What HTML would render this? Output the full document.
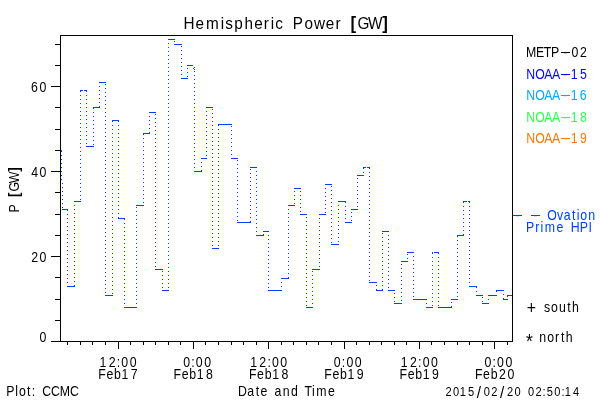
<!DOCTYPE html>
<html><head><meta charset="utf-8"><title>Hemispheric Power</title>
<style>
html,body{margin:0;padding:0;background:#fff}
body{width:600px;height:400px;overflow:hidden}
svg{display:block}
text{font-family:"Liberation Sans",sans-serif;white-space:pre}
</style></head><body>
<svg width="600" height="400" viewBox="0 0 600 400">
<rect width="600" height="400" fill="#fff"/>
<path d="M62 209.5H68M67 286.5H75M74 201.5H81M80 90.5H83M84 90.5H87M86 146.5H94M93 107.5H100M99 82.5H106M105 295.5H113M112 120.5H119M118 218.5H125M124 307.5H137M136 205.5H144M143 133.5H150M149 112.5H156M155 269.5H163M162 290.5H169M168 39.5H175M174 44.5H182M181 78.5H188M187 65.5H193M193 68.5h1M194 69.5h1M194 171.5H202M201 158.5H207M206 107.5H213M212 248.5H219M218 124.5H232M231 158.5H238M237 222.5H251M250 167.5H257M256 235.5H264M263 231.5H269M268 290.5H282M281 278.5H289M288 205.5H295M294 188.5H301M300 214.5H307M306 307.5H313M312 269.5H320M319 214.5H326M325 184.5H332M331 244.5H339M338 201.5H346M345 222.5H352M351 209.5H358M357 175.5H364M363 167.5H366M367 167.5H370M369 282.5H377M376 290.5H383M382 231.5H389M388 290.5H395M394 303.5H402M401 261.5H408M407 252.5H414M413 299.5H427M426 307.5H433M432 252.5H433M434 252.5H439M438 307.5H452M451 299.5H458M457 235.5H464M463 201.5H467M468 201.5H470M469 286.5H477M476 295.5H483M482 303.5H489M488 295.5H497M496 290.5H504M503 299.5H508M507 295.5H513M61 150.5h1M61 151.5h1M61 155.5h1M61 159.5h1M61 163.5h1M61 167.5h1M61 171.5h1M61 175.5h1M61 179.5h1M62 183.5h1M62 187.5h1M62 191.5h1M62 195.5h1M62 199.5h1M62 203.5h1M62 207.5h1M67 210.5h1M67 214.5h1M67 218.5h1M67 222.5h1M67 226.5h1M67 230.5h1M67 234.5h1M67 238.5h1M67 242.5h1M67 246.5h1M67 250.5h1M67 254.5h1M67 258.5h1M67 262.5h1M67 266.5h1M67 270.5h1M67 274.5h1M67 278.5h1M67 282.5h1M74 285.5h1M74 281.5h1M74 277.5h1M74 273.5h1M74 269.5h1M74 265.5h1M74 261.5h1M74 257.5h1M74 253.5h1M74 249.5h1M74 245.5h1M74 241.5h1M74 237.5h1M74 233.5h1M74 229.5h1M74 225.5h1M74 221.5h1M74 217.5h1M74 213.5h1M74 209.5h1M74 205.5h1M80 199.5h1M80 195.5h1M80 191.5h1M80 187.5h1M80 183.5h1M80 179.5h1M80 175.5h1M80 171.5h1M80 167.5h1M80 163.5h1M80 159.5h1M80 155.5h1M80 151.5h1M80 147.5h1M80 143.5h1M80 139.5h1M80 135.5h1M80 131.5h1M80 127.5h1M80 123.5h1M80 119.5h1M80 115.5h1M80 111.5h1M80 107.5h1M80 103.5h1M80 99.5h1M80 95.5h1M80 91.5h1M86 91.5h1M86 95.5h1M86 99.5h1M86 103.5h1M86 107.5h1M86 111.5h1M86 115.5h1M86 119.5h1M86 123.5h1M86 127.5h1M86 131.5h1M86 135.5h1M86 139.5h1M86 143.5h1M93 144.5h1M93 140.5h1M93 136.5h1M93 132.5h1M93 128.5h1M93 124.5h1M93 120.5h1M93 116.5h1M93 112.5h1M93 108.5h1M99 106.5h1M99 102.5h1M99 98.5h1M99 94.5h1M99 90.5h1M99 86.5h1M105 84.5h1M105 88.5h1M105 92.5h1M105 96.5h1M105 100.5h1M105 104.5h1M105 108.5h1M105 112.5h1M105 116.5h1M105 120.5h1M105 124.5h1M105 128.5h1M105 132.5h1M105 136.5h1M105 140.5h1M105 144.5h1M105 148.5h1M105 152.5h1M105 156.5h1M105 160.5h1M105 164.5h1M105 168.5h1M105 172.5h1M105 176.5h1M105 180.5h1M105 184.5h1M105 188.5h1M105 192.5h1M105 196.5h1M105 200.5h1M105 204.5h1M105 208.5h1M105 212.5h1M105 216.5h1M105 220.5h1M105 224.5h1M105 228.5h1M105 232.5h1M105 236.5h1M105 240.5h1M105 244.5h1M105 248.5h1M105 252.5h1M105 256.5h1M105 260.5h1M105 264.5h1M105 268.5h1M105 272.5h1M105 276.5h1M105 280.5h1M105 284.5h1M105 288.5h1M105 292.5h1M112 293.5h1M112 289.5h1M112 285.5h1M112 281.5h1M112 277.5h1M112 273.5h1M112 269.5h1M112 265.5h1M112 261.5h1M112 257.5h1M112 253.5h1M112 249.5h1M112 245.5h1M112 241.5h1M112 237.5h1M112 233.5h1M112 229.5h1M112 225.5h1M112 221.5h1M112 217.5h1M112 213.5h1M112 209.5h1M112 205.5h1M112 201.5h1M112 197.5h1M112 193.5h1M112 189.5h1M112 185.5h1M112 181.5h1M112 177.5h1M112 173.5h1M112 169.5h1M112 165.5h1M112 161.5h1M112 157.5h1M112 153.5h1M112 149.5h1M112 145.5h1M112 141.5h1M112 137.5h1M112 133.5h1M112 129.5h1M112 125.5h1M112 121.5h1M118 121.5h1M118 125.5h1M118 129.5h1M118 133.5h1M118 137.5h1M118 141.5h1M118 145.5h1M118 149.5h1M118 153.5h1M118 157.5h1M118 161.5h1M118 165.5h1M118 169.5h1M118 173.5h1M118 177.5h1M118 181.5h1M118 185.5h1M118 189.5h1M118 193.5h1M118 197.5h1M118 201.5h1M118 205.5h1M118 209.5h1M118 213.5h1M118 217.5h1M124 219.5h1M124 223.5h1M124 227.5h1M124 231.5h1M124 235.5h1M124 239.5h1M124 243.5h1M124 247.5h1M124 251.5h1M124 255.5h1M124 259.5h1M124 263.5h1M124 267.5h1M124 271.5h1M124 275.5h1M124 279.5h1M124 283.5h1M124 287.5h1M124 291.5h1M124 295.5h1M124 299.5h1M124 303.5h1M136 303.5h1M136 299.5h1M136 295.5h1M136 291.5h1M136 287.5h1M136 283.5h1M136 279.5h1M136 275.5h1M136 271.5h1M136 267.5h1M136 263.5h1M136 259.5h1M136 255.5h1M136 251.5h1M136 247.5h1M136 243.5h1M136 239.5h1M136 235.5h1M136 231.5h1M136 227.5h1M136 223.5h1M136 219.5h1M136 215.5h1M136 211.5h1M136 207.5h1M143 202.5h1M143 198.5h1M143 194.5h1M143 190.5h1M143 186.5h1M143 182.5h1M143 178.5h1M143 174.5h1M143 170.5h1M143 166.5h1M143 162.5h1M143 158.5h1M143 154.5h1M143 150.5h1M143 146.5h1M143 142.5h1M143 138.5h1M143 134.5h1M149 132.5h1M149 128.5h1M149 124.5h1M149 120.5h1M149 116.5h1M155 114.5h1M155 118.5h1M155 122.5h1M155 126.5h1M155 130.5h1M155 134.5h1M155 138.5h1M155 142.5h1M155 146.5h1M155 150.5h1M155 154.5h1M155 158.5h1M155 162.5h1M155 166.5h1M155 170.5h1M155 174.5h1M155 178.5h1M155 182.5h1M155 186.5h1M155 190.5h1M155 194.5h1M155 198.5h1M155 202.5h1M155 206.5h1M155 210.5h1M155 214.5h1M155 218.5h1M155 222.5h1M155 226.5h1M155 230.5h1M155 234.5h1M155 238.5h1M155 242.5h1M155 246.5h1M155 250.5h1M155 254.5h1M155 258.5h1M155 262.5h1M155 266.5h1M162 271.5h1M162 275.5h1M162 279.5h1M162 283.5h1M162 287.5h1M168 287.5h1M168 283.5h1M168 279.5h1M168 275.5h1M168 271.5h1M168 267.5h1M168 263.5h1M168 259.5h1M168 255.5h1M168 251.5h1M168 247.5h1M168 243.5h1M168 239.5h1M168 235.5h1M168 231.5h1M168 227.5h1M168 223.5h1M168 219.5h1M168 215.5h1M168 211.5h1M168 207.5h1M168 203.5h1M168 199.5h1M168 195.5h1M168 191.5h1M168 187.5h1M168 183.5h1M168 179.5h1M168 175.5h1M168 171.5h1M168 167.5h1M168 163.5h1M168 159.5h1M168 155.5h1M168 151.5h1M168 147.5h1M168 143.5h1M168 139.5h1M168 135.5h1M168 131.5h1M168 127.5h1M168 123.5h1M168 119.5h1M168 115.5h1M168 111.5h1M168 107.5h1M168 103.5h1M168 99.5h1M168 95.5h1M168 91.5h1M168 87.5h1M168 83.5h1M168 79.5h1M168 75.5h1M168 71.5h1M168 67.5h1M168 63.5h1M168 59.5h1M168 55.5h1M168 51.5h1M168 47.5h1M168 43.5h1M174 41.5h1M181 46.5h1M181 50.5h1M181 54.5h1M181 58.5h1M181 62.5h1M181 66.5h1M181 70.5h1M181 74.5h1M187 76.5h1M187 72.5h1M187 68.5h1M194 67.5h1M194 71.5h1M194 75.5h1M194 79.5h1M194 83.5h1M194 87.5h1M194 91.5h1M194 95.5h1M194 99.5h1M194 103.5h1M194 107.5h1M194 111.5h1M194 115.5h1M194 119.5h1M194 123.5h1M194 127.5h1M194 131.5h1M194 135.5h1M194 139.5h1M194 143.5h1M194 147.5h1M194 151.5h1M194 155.5h1M194 159.5h1M194 163.5h1M194 167.5h1M201 170.5h1M201 166.5h1M201 162.5h1M206 155.5h1M206 151.5h1M206 147.5h1M206 143.5h1M206 139.5h1M206 135.5h1M206 131.5h1M206 127.5h1M206 123.5h1M206 119.5h1M206 115.5h1M206 111.5h1M212 109.5h1M212 113.5h1M212 117.5h1M212 121.5h1M212 125.5h1M212 129.5h1M212 133.5h1M212 137.5h1M212 141.5h1M212 145.5h1M212 149.5h1M212 153.5h1M212 157.5h1M212 161.5h1M212 165.5h1M212 169.5h1M212 173.5h1M212 177.5h1M212 181.5h1M212 185.5h1M212 189.5h1M212 193.5h1M212 197.5h1M212 201.5h1M212 205.5h1M212 209.5h1M212 213.5h1M212 217.5h1M212 221.5h1M212 225.5h1M212 229.5h1M212 233.5h1M212 237.5h1M212 241.5h1M212 245.5h1M218 245.5h1M218 241.5h1M218 237.5h1M218 233.5h1M218 229.5h1M218 225.5h1M218 221.5h1M218 217.5h1M218 213.5h1M218 209.5h1M218 205.5h1M218 201.5h1M218 197.5h1M218 193.5h1M218 189.5h1M218 185.5h1M218 181.5h1M218 177.5h1M218 173.5h1M218 169.5h1M218 165.5h1M218 161.5h1M218 157.5h1M218 153.5h1M218 149.5h1M218 145.5h1M218 141.5h1M218 137.5h1M218 133.5h1M218 129.5h1M218 125.5h1M231 126.5h1M231 130.5h1M231 134.5h1M231 138.5h1M231 142.5h1M231 146.5h1M231 150.5h1M231 154.5h1M237 160.5h1M237 164.5h1M237 168.5h1M237 172.5h1M237 176.5h1M237 180.5h1M237 184.5h1M237 188.5h1M237 192.5h1M237 196.5h1M237 200.5h1M237 204.5h1M237 208.5h1M237 212.5h1M237 216.5h1M237 220.5h1M250 221.5h1M250 217.5h1M250 213.5h1M250 209.5h1M250 205.5h1M250 201.5h1M250 197.5h1M250 193.5h1M250 189.5h1M250 185.5h1M250 181.5h1M250 177.5h1M250 173.5h1M250 169.5h1M256 171.5h1M256 175.5h1M256 179.5h1M256 183.5h1M256 187.5h1M256 191.5h1M256 195.5h1M256 199.5h1M256 203.5h1M256 207.5h1M256 211.5h1M256 215.5h1M256 219.5h1M256 223.5h1M256 227.5h1M256 231.5h1M263 234.5h1M268 235.5h1M268 239.5h1M268 243.5h1M268 247.5h1M268 251.5h1M268 255.5h1M268 259.5h1M268 263.5h1M268 267.5h1M268 271.5h1M268 275.5h1M268 279.5h1M268 283.5h1M268 287.5h1M281 286.5h1M281 282.5h1M288 277.5h1M288 273.5h1M288 269.5h1M288 265.5h1M288 261.5h1M288 257.5h1M288 253.5h1M288 249.5h1M288 245.5h1M288 241.5h1M288 237.5h1M288 233.5h1M288 229.5h1M288 225.5h1M288 221.5h1M288 217.5h1M288 213.5h1M288 209.5h1M294 203.5h1M294 199.5h1M294 195.5h1M294 191.5h1M300 191.5h1M300 195.5h1M300 199.5h1M300 203.5h1M300 207.5h1M300 211.5h1M306 217.5h1M306 221.5h1M306 225.5h1M306 229.5h1M306 233.5h1M306 237.5h1M306 241.5h1M306 245.5h1M306 249.5h1M306 253.5h1M306 257.5h1M306 261.5h1M306 265.5h1M306 269.5h1M306 273.5h1M306 277.5h1M306 281.5h1M306 285.5h1M306 289.5h1M306 293.5h1M306 297.5h1M306 301.5h1M306 305.5h1M312 303.5h1M312 299.5h1M312 295.5h1M312 291.5h1M312 287.5h1M312 283.5h1M312 279.5h1M312 275.5h1M312 271.5h1M319 266.5h1M319 262.5h1M319 258.5h1M319 254.5h1M319 250.5h1M319 246.5h1M319 242.5h1M319 238.5h1M319 234.5h1M319 230.5h1M319 226.5h1M319 222.5h1M319 218.5h1M325 212.5h1M325 208.5h1M325 204.5h1M325 200.5h1M325 196.5h1M325 192.5h1M325 188.5h1M331 186.5h1M331 190.5h1M331 194.5h1M331 198.5h1M331 202.5h1M331 206.5h1M331 210.5h1M331 214.5h1M331 218.5h1M331 222.5h1M331 226.5h1M331 230.5h1M331 234.5h1M331 238.5h1M331 242.5h1M338 241.5h1M338 237.5h1M338 233.5h1M338 229.5h1M338 225.5h1M338 221.5h1M338 217.5h1M338 213.5h1M338 209.5h1M338 205.5h1M345 202.5h1M345 206.5h1M345 210.5h1M345 214.5h1M345 218.5h1M351 220.5h1M351 216.5h1M351 212.5h1M357 206.5h1M357 202.5h1M357 198.5h1M357 194.5h1M357 190.5h1M357 186.5h1M357 182.5h1M357 178.5h1M363 172.5h1M363 168.5h1M369 168.5h1M369 172.5h1M369 176.5h1M369 180.5h1M369 184.5h1M369 188.5h1M369 192.5h1M369 196.5h1M369 200.5h1M369 204.5h1M369 208.5h1M369 212.5h1M369 216.5h1M369 220.5h1M369 224.5h1M369 228.5h1M369 232.5h1M369 236.5h1M369 240.5h1M369 244.5h1M369 248.5h1M369 252.5h1M369 256.5h1M369 260.5h1M369 264.5h1M369 268.5h1M369 272.5h1M369 276.5h1M369 280.5h1M376 285.5h1M376 289.5h1M382 289.5h1M382 285.5h1M382 281.5h1M382 277.5h1M382 273.5h1M382 269.5h1M382 265.5h1M382 261.5h1M382 257.5h1M382 253.5h1M382 249.5h1M382 245.5h1M382 241.5h1M382 237.5h1M382 233.5h1M388 235.5h1M388 239.5h1M388 243.5h1M388 247.5h1M388 251.5h1M388 255.5h1M388 259.5h1M388 263.5h1M388 267.5h1M388 271.5h1M388 275.5h1M388 279.5h1M388 283.5h1M388 287.5h1M394 293.5h1M394 297.5h1M394 301.5h1M401 300.5h1M401 296.5h1M401 292.5h1M401 288.5h1M401 284.5h1M401 280.5h1M401 276.5h1M401 272.5h1M401 268.5h1M401 264.5h1M407 258.5h1M407 254.5h1M413 256.5h1M413 260.5h1M413 264.5h1M413 268.5h1M413 272.5h1M413 276.5h1M413 280.5h1M413 284.5h1M413 288.5h1M413 292.5h1M413 296.5h1M426 303.5h1M432 305.5h1M432 301.5h1M432 297.5h1M432 293.5h1M432 289.5h1M432 285.5h1M432 281.5h1M432 277.5h1M432 273.5h1M432 269.5h1M432 265.5h1M432 261.5h1M432 257.5h1M432 253.5h1M438 253.5h1M438 257.5h1M438 261.5h1M438 265.5h1M438 269.5h1M438 273.5h1M438 277.5h1M438 281.5h1M438 285.5h1M438 289.5h1M438 293.5h1M438 297.5h1M438 301.5h1M438 305.5h1M451 306.5h1M451 302.5h1M457 296.5h1M457 292.5h1M457 288.5h1M457 284.5h1M457 280.5h1M457 276.5h1M457 272.5h1M457 268.5h1M457 264.5h1M457 260.5h1M457 256.5h1M457 252.5h1M457 248.5h1M457 244.5h1M457 240.5h1M457 236.5h1M463 234.5h1M463 230.5h1M463 226.5h1M463 222.5h1M463 218.5h1M463 214.5h1M463 210.5h1M463 206.5h1M463 202.5h1M469 202.5h1M469 206.5h1M469 210.5h1M469 214.5h1M469 218.5h1M469 222.5h1M469 226.5h1M469 230.5h1M469 234.5h1M469 238.5h1M469 242.5h1M469 246.5h1M469 250.5h1M469 254.5h1M469 258.5h1M469 262.5h1M469 266.5h1M469 270.5h1M469 274.5h1M469 278.5h1M469 282.5h1M476 287.5h1M476 291.5h1M482 297.5h1M482 301.5h1M488 299.5h1M496 291.5h1M503 294.5h1M503 298.5h1M507 296.5h1" stroke="#0040ff" stroke-width="1" fill="none" shape-rendering="crispEdges"/>
<path d="M60.5 35V342M512.5 35V342M60 35.5H513M51 341.5H513M55 320.5H60M55 299.5H60M55 277.5H60M51 256.5H60M55 235.5H60M55 214.5H60M55 192.5H60M51 171.5H60M55 150.5H60M55 129.5H60M55 107.5H60M51 86.5H60M55 65.5H60M55 44.5H60M67.5 341V345M80.5 341V345M92.5 341V345M105.5 341V345M118.5 341V349M130.5 341V345M143.5 341V345M155.5 341V345M168.5 341V345M180.5 341V345M193.5 341V349M205.5 341V345M218.5 341V345M231.5 341V345M243.5 341V345M256.5 341V345M268.5 341V349M281.5 341V345M293.5 341V345M306.5 341V345M318.5 341V345M331.5 341V345M344.5 341V349M356.5 341V345M369.5 341V345M381.5 341V345M394.5 341V345M406.5 341V345M419.5 341V349M431.5 341V345M444.5 341V345M457.5 341V345M469.5 341V345M482.5 341V345M494.5 341V349M507.5 341V345" stroke="#000" stroke-width="1" fill="none" shape-rendering="crispEdges"/>
<path d="M561 52.5H570" stroke="#000" stroke-width="1" fill="none" shape-rendering="crispEdges"/>
<path d="M561 74.5H570" stroke="#0008f8" stroke-width="1" fill="none" shape-rendering="crispEdges"/>
<path d="M561 95.5H570" stroke="#00aaff" stroke-width="1" fill="none" shape-rendering="crispEdges"/>
<path d="M561 117.5H570" stroke="#30ff50" stroke-width="1" fill="none" shape-rendering="crispEdges"/>
<path d="M561 138.5H570" stroke="#ff7800" stroke-width="1" fill="none" shape-rendering="crispEdges"/>
<path d="M513 215.5H522M531 215.5H540" stroke="#0040ff" stroke-width="1" fill="none" shape-rendering="crispEdges"/>
<text id="title" transform="scale(0.88 1)" x="208.63 222.14 234.17 250.94 256.11 266.2 277.8 289 299.82 307.55 312.82 325.13 332.63 345.89 356.79 370.3 381.13 390.78 398.32 406.21 418.1 434.39" y="29" font-size="17.4">Hemispheric Power <tspan font-size="19.14" font-weight="bold">[</tspan>GW<tspan font-size="19.14" font-weight="bold">]</tspan></text>
<text id="y60" transform="scale(0.88 1)" x="35.38 44.97" y="92" font-size="14">60</text>
<text id="y40" transform="scale(0.88 1)" x="35.47 44.97" y="177" font-size="14">40</text>
<text id="y20" transform="scale(0.88 1)" x="35.43 44.97" y="262" font-size="14">20</text>
<text id="y0" transform="scale(0.88 1)" x="44.97" y="342" font-size="14">0</text>
<text id="ylab" transform="translate(19 213.0) rotate(-90) scale(0.88 1)" x="0.59 12.35 18.31 24.53 33.93 46.91" y="0" font-size="14">P <tspan font-size="15.4" font-weight="bold">[</tspan>GW<tspan font-size="15.4" font-weight="bold">]</tspan></text>
<text id="xa0" transform="scale(0.88 1)" x="113.07 123.52 132.63 137.84 147.38" y="367" font-size="14">12:00</text>
<text id="xb0" transform="scale(0.88 1)" x="111.63 120.91 129.57 138.12 148.57" y="379" font-size="14">Feb17</text>
<text id="xa1" transform="scale(0.88 1)" x="201.53 208.17 217.28 222.49 232.03" y="367" font-size="14"> 0:00</text>
<text id="xb1" transform="scale(0.88 1)" x="197.23 206.51 215.17 223.73 234.18" y="379" font-size="14">Feb18</text>
<text id="xa2" transform="scale(0.88 1)" x="284.28 294.73 303.84 309.05 318.59" y="367" font-size="14">12:00</text>
<text id="xb2" transform="scale(0.88 1)" x="282.84 292.12 300.78 309.34 319.79" y="379" font-size="14">Feb18</text>
<text id="xa3" transform="scale(0.88 1)" x="372.74 379.38 388.49 393.7 403.25" y="367" font-size="14"> 0:00</text>
<text id="xb3" transform="scale(0.88 1)" x="368.44 377.73 386.38 394.94 405.4" y="379" font-size="14">Feb19</text>
<text id="xa4" transform="scale(0.88 1)" x="455.49 465.94 475.05 480.26 489.81" y="367" font-size="14">12:00</text>
<text id="xb4" transform="scale(0.88 1)" x="454.05 463.33 471.99 480.55 491" y="379" font-size="14">Feb19</text>
<text id="xa5" transform="scale(0.88 1)" x="543.95 550.6 559.7 564.91 574.46" y="367" font-size="14"> 0:00</text>
<text id="xb5" transform="scale(0.88 1)" x="539.66 548.94 557.6 567.06 576.61" y="379" font-size="14">Feb20</text>
<text id="plot" transform="scale(0.88 1)" x="7.18 17.42 21.53 30.82 36.12 42.33 47.96 57.98 68.03 79.46" y="396" font-size="14">Plot: CCMC</text>
<text id="dt" transform="scale(0.88 1)" x="270.39 281.04 290.63 295.9 305.95 312.06 321.41 330.65 340.79 346.1 354.55 359.34 372.75" y="396" font-size="14">Date and Time</text>
<text id="stamp" transform="scale(0.88 1)" x="506.21 514.73 522.45 531.79 541.82 549.68 558.2 568.24 576.1 584.62 594.05 599.96 608.48 616.63 621.28 629.79 637.94 641.76 651.14" y="396 396 396 396 398.44 396 396 398.44 396 396 396 396 396 396 396 396 396 396 396" font-size="12.6">2015<tspan font-size="17.39">/</tspan>02<tspan font-size="17.39">/</tspan>20 02:50:14</text>
<text id="l0" transform="scale(0.88 1)" x="597.85 609 618.02 626.25 640.01 649.43 658.97" y="57" font-size="14">METP-02</text>
<text id="l1" transform="scale(0.88 1)" x="598.15 608.26 618.58 627.17 640.01 648.52 658.98" y="79" font-size="14" fill="#0008f8">NOAA-15</text>
<text id="l2" transform="scale(0.88 1)" x="598.15 608.26 618.58 627.17 640.01 648.52 658.92" y="100" font-size="14" fill="#00aaff">NOAA-16</text>
<text id="l3" transform="scale(0.88 1)" x="598.15 608.26 618.58 627.17 640.01 648.52 658.97" y="122" font-size="14" fill="#30ff50">NOAA-18</text>
<text id="l4" transform="scale(0.88 1)" x="598.15 608.26 618.58 627.17 640.01 648.52 658.97" y="143" font-size="14" fill="#ff7800">NOAA-19</text>
<text id="ov1" transform="scale(0.88 1)" x="585.81 596.21 605.85 616.26 621.83 632.84 640.5 650.09 655.31 659.41 668.47" y="220" font-size="14" fill="#0040ff">- - Ovation</text>
<text id="ov2" transform="scale(0.88 1)" x="597.86 608.17 614.31 619.1 632.51 642.56 648.51 658.96 668.81" y="232" font-size="14" fill="#0040ff">Prime HPI</text>
<text id="south" transform="scale(0.88 1)" font-size="14"><tspan x="603.75" y="313.6" font-size="18" text-anchor="middle">+</tspan><tspan x="615.11 618.11 626.25 635.33 644.61 650.09" y="312"> south</tspan></text>
<text id="north" transform="scale(0.88 1)" font-size="14"><tspan x="601.59" y="348.3" font-size="20" text-anchor="middle">*</tspan><tspan x="609.9 612.9 621.98 630.83 637.48 642.95" y="342"> north</tspan></text>
</svg>
</body></html>
